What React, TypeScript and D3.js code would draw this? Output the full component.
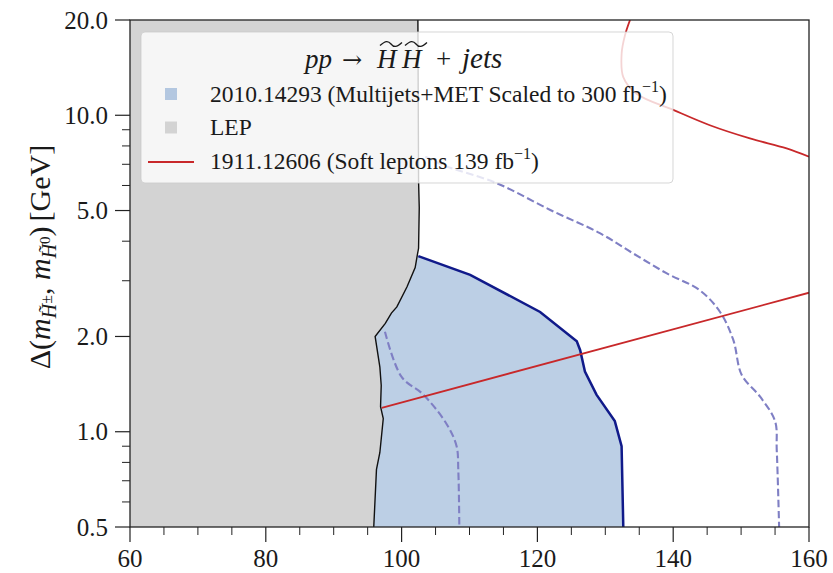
import React from 'react';
import * as d3 from 'd3';

// LEP exclusion boundary (mass GeV, splitting GeV), top to bottom
const lepMass = [102.4, 102.5, 102.6, 102.5, 102.3, 102.0, 100.8, 99.3, 98.5, 97.6, 96.1, 96.8, 97.0, 96.9, 97.3, 96.8, 96.3, 95.9];
const lepSplit = [20, 6.2, 5.1, 3.8, 3.6, 3.3, 2.87, 2.48, 2.37, 2.2, 2.0, 1.6, 1.4, 1.2, 1.1, 0.86, 0.76, 0.5];

// multijets+MET expected limit (solid)
const mjMass = [102.46, 110.1, 120.4, 125.8, 126.3, 127.0, 128.7, 131.4, 132.4, 132.65];
const mjSplit = [3.59, 3.13, 2.39, 1.93, 1.81, 1.55, 1.31, 1.08, 0.9, 0.5];

// dashed bands
const innerMass = [97.55, 100.0, 103.2, 106.6, 108.1, 108.35, 108.5];
const innerSplit = [2.07, 1.49, 1.31, 1.06, 0.9, 0.757, 0.5];
const outerMass = [103.5, 106.1, 114.0, 121.9, 129.2, 134.1, 139.0, 143.9, 146.9, 148.85, 150.1, 152.8, 155.0, 155.25, 155.6];
const outerSplit = [7.4, 6.96, 6.1, 5.02, 4.24, 3.66, 3.17, 2.8, 2.39, 1.95, 1.51, 1.29, 1.08, 0.875, 0.5];

// soft leptons 139 fb-1
const slLowMass = [97.07, 160];
const slLowSplit = [1.19, 2.75];
const slHighMass = [133.64, 132.9, 132.41, 132.65, 134.6, 140.0, 145.4, 151.3, 156.7, 160];
const slHighSplit = [20, 17.9, 15.7, 13.2, 11.7, 10.4, 9.3, 8.45, 7.86, 7.4];

const xMajor = [60, 80, 100, 120, 140, 160];
const yMajor = [0.5, 1, 2, 5, 10, 20];
const yMajorLabels = ['0.5', '1.0', '2.0', '5.0', '10.0', '20.0'];

const legendLabels = ['2010.14293 (Multijets+MET Scaled to 300 fb', 'LEP', '1911.12606 (Soft leptons 139 fb'];

const FONT = '"Liberation Serif", "DejaVu Serif", serif';
const INK = '#1a1a1a';

export default function App() {
  const x = d3.scaleLinear().domain([60, 160]).range([130, 809]);
  const y = d3.scaleLog().domain([0.5, 20]).range([527, 20]);

  const zip = (a: number[], b: number[]) => a.map((v, i) => [v, b[i]] as [number, number]);
  const line = d3.line<[number, number]>().x(d => x(d[0])).y(d => y(d[1]));
  const smooth = d3.line<[number, number]>().x(d => x(d[0])).y(d => y(d[1])).curve(d3.curveCatmullRom.alpha(0.5));

  const lepPts = zip(lepMass, lepSplit);
  const lepArea = line([[60, 20], ...lepPts, [60, 0.5]]) + 'Z';
  const mjPts = zip(mjMass, mjSplit);
  const mjArea = line([...mjPts, [60, 0.5], [60, mjSplit[0]]]) + 'Z';

  const xMinor = d3.range(60, 161, 5).filter(v => !xMajor.includes(v));
  const yMinor = y.ticks().filter(v => !yMajor.some(m => Math.abs(m - v) < 1e-9));

  const tilde = (cx: number, cy: number, w: number) =>
    `M${cx - w / 2},${cy + 1.5} C${cx - w / 4},${cy - 3.5} ${cx - w / 8},${cy - 3.5} ${cx},${cy} S${cx + w / 4},${cy + 3.5} ${cx + w / 2},${cy - 1.5}`;

  return (
    <svg width={833} height={573} style={{ position: 'absolute', left: 0, top: 0, background: '#fff' }}>
      <defs>
        <clipPath id="plot">
          <rect x={130} y={20} width={679} height={507} />
        </clipPath>
      </defs>
      <g clipPath="url(#plot)">
        <path d={mjArea} fill="#bccfe5" />
        <path d={lepArea} fill="#d3d3d3" />
        <path d={smooth(zip(innerMass, innerSplit)) || ''} fill="none" stroke="#7f7fc4" strokeWidth={2.1} strokeDasharray="7.6,3.4" />
        <path d={smooth(zip(outerMass, outerSplit)) || ''} fill="none" stroke="#7f7fc4" strokeWidth={2.1} strokeDasharray="7.6,3.4" />
        <path d={line(mjPts) || ''} fill="none" stroke="#101a8a" strokeWidth={2.5} />
        <path d={line(lepPts) || ''} fill="none" stroke="#111" strokeWidth={1.4} />
        <path d={line(zip(slLowMass, slLowSplit)) || ''} fill="none" stroke="#c8282a" strokeWidth={1.8} />
        <path d={smooth(zip(slHighMass, slHighSplit)) || ''} fill="none" stroke="#c8282a" strokeWidth={1.8} />
      </g>

      {/* frame */}
      <rect x={130} y={20} width={679} height={507} fill="none" stroke="#222" strokeWidth={1.3} />

      {/* x ticks */}
      {xMajor.map(v => (
        <g key={'xM' + v}>
          <line x1={x(v)} x2={x(v)} y1={527} y2={542} stroke="#222" strokeWidth={1.2} />
          <text x={x(v)} y={567} textAnchor="middle" fontFamily={FONT} fontSize={25} fill={INK}>{v}</text>
        </g>
      ))}
      {xMinor.map(v => (
        <line key={'xm' + v} x1={x(v)} x2={x(v)} y1={527} y2={535} stroke="#222" strokeWidth={1} />
      ))}

      {/* y ticks */}
      {yMajor.map((v, i) => (
        <g key={'yM' + v}>
          <line x1={115} x2={130} y1={y(v)} y2={y(v)} stroke="#222" strokeWidth={1.2} />
          <text x={108} y={y(v) + 8.5} textAnchor="end" fontFamily={FONT} fontSize={25} fill={INK}>{yMajorLabels[i]}</text>
        </g>
      ))}
      {yMinor.map(v => (
        <line key={'ym' + v} x1={122} x2={130} y1={y(v)} y2={y(v)} stroke="#222" strokeWidth={1} />
      ))}

      {/* y label */}
      <text transform="translate(50,257) rotate(-90)" textAnchor="middle" fontFamily={FONT} fontSize={30} fill={INK}>
        <tspan>Δ(</tspan>
        <tspan fontStyle="italic">m</tspan>
        <tspan fontSize={20} fontStyle="italic" dy={6}>{'H\u0303'}</tspan>
        <tspan fontSize={16} dy={-4}>±</tspan>
        <tspan dy={-2}>, </tspan>
        <tspan fontStyle="italic">m</tspan>
        <tspan fontSize={20} fontStyle="italic" dy={6}>{'H\u0303'}</tspan>
        <tspan fontSize={15} dy={-6}>0</tspan>
        <tspan dy={0}>)</tspan>
        <tspan dx={5}>[GeV]</tspan>
      </text>

      {/* legend */}
      <rect x={141} y={32} width={532} height={151} rx={4} fill="#fff" fillOpacity={0.8} stroke="#cccccc" strokeOpacity={0.8} />
      <g fontFamily={FONT} fill={INK}>
        <g fontSize={27}>
          <text x={305} y={68} fontStyle="italic">pp</text>
          <text x={342} y={68} fontFamily='"DejaVu Serif", serif' fontSize={24}>→</text>
          <text x={377} y={68} fontStyle="italic">H</text>
          <path d={tilde(391, 44, 22)} fill="none" stroke={INK} strokeWidth={1.3} />
          <text x={402} y={68} fontStyle="italic">H</text>
          <path d={tilde(416, 44, 22)} fill="none" stroke={INK} strokeWidth={1.3} />
          <text x={436} y={68}>+</text>
          <text x={462} y={68} fontStyle="italic" fontSize={29}>jets</text>
        </g>

        <g fontSize={23.5}>
          <rect x={165} y={88} width={12} height={12} fill="#b3c7e0" />
          <rect x={165} y={121.5} width={12} height={12} fill="#d3d3d3" />
          <line x1={148} x2={194} y1={162} y2={162} stroke="#c8282a" strokeWidth={2} />

          <text x={210} y={102}>
            {legendLabels[0]}
            <tspan fontSize={16} dy={-10}>−1</tspan>
            <tspan dy={10}>)</tspan>
          </text>
          <text x={210} y={135}>{legendLabels[1]}</text>
          <text x={210} y={168.5}>
            {legendLabels[2]}
            <tspan fontSize={16} dy={-10}>−1</tspan>
            <tspan dy={10}>)</tspan>
          </text>
        </g>
      </g>
    </svg>
  );
}
